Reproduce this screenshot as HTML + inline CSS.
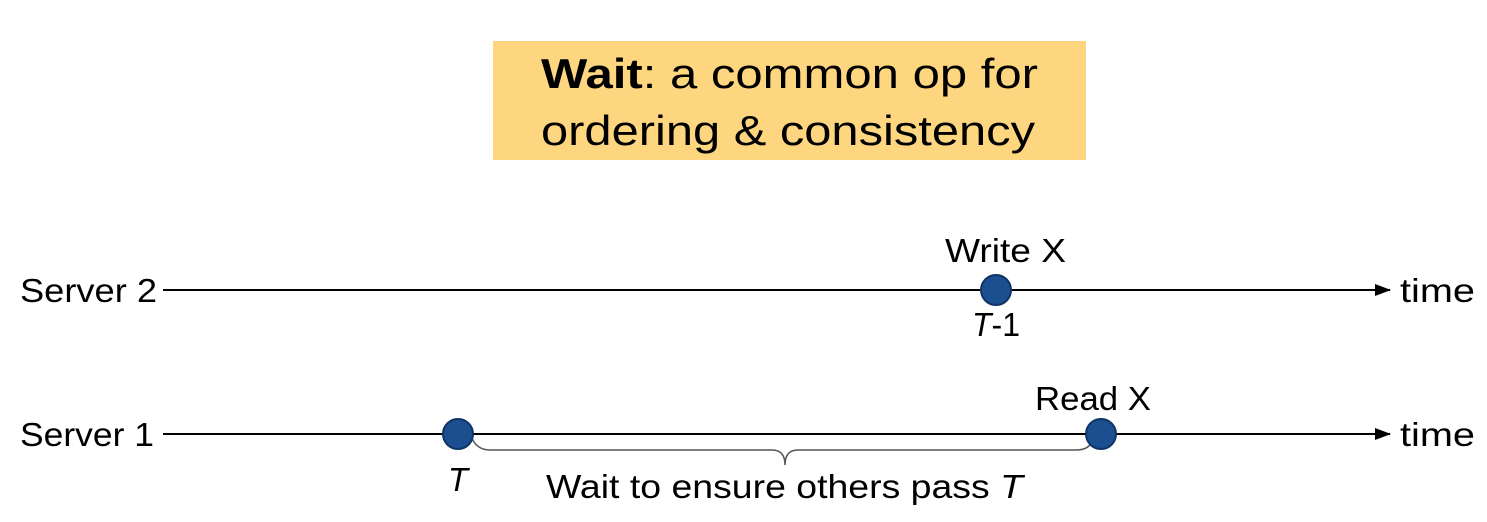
<!DOCTYPE html>
<html><head><meta charset="utf-8"><style>
body{margin:0;background:#fff;width:1487px;height:517px;overflow:hidden}
svg text{font-family:"Liberation Sans",sans-serif;fill:#000}
</style></head><body>
<svg width="1487" height="517" viewBox="0 0 1487 517" xmlns="http://www.w3.org/2000/svg">
<rect x="493" y="41" width="593" height="119" fill="#FDD67F"/>
<text x="541" y="88" font-size="42" textLength="497" lengthAdjust="spacingAndGlyphs"><tspan font-weight="bold">Wait</tspan>: a common op for</text>
<text x="541" y="145" font-size="42" textLength="494" lengthAdjust="spacingAndGlyphs">ordering &amp; consistency</text>
<defs><marker id="a" markerWidth="16" markerHeight="12" refX="15" refY="6" orient="auto" markerUnits="userSpaceOnUse"><path d="M0,0 L16,6 L0,12 Z" fill="#000"/></marker></defs>
<line x1="163" y1="290" x2="1390" y2="290" stroke="#000" stroke-width="2" marker-end="url(#a)"/>
<line x1="163" y1="434" x2="1390" y2="434" stroke="#000" stroke-width="2" marker-end="url(#a)"/>
<text x="20" y="302" font-size="33" textLength="137" lengthAdjust="spacingAndGlyphs">Server 2</text>
<text x="20" y="446" font-size="33" textLength="134" lengthAdjust="spacingAndGlyphs">Server 1</text>
<text x="1400" y="302" font-size="33" textLength="75" lengthAdjust="spacingAndGlyphs">time</text>
<text x="1400" y="446" font-size="33" textLength="75" lengthAdjust="spacingAndGlyphs">time</text>
<text x="945" y="262" font-size="33" textLength="121" lengthAdjust="spacingAndGlyphs">Write X</text>
<text x="972" y="336" font-size="33" textLength="48" lengthAdjust="spacingAndGlyphs"><tspan font-style="italic">T</tspan>-1</text>
<text x="1035" y="410" font-size="33" textLength="116" lengthAdjust="spacingAndGlyphs">Read X</text>
<text x="458" y="491" font-size="33" text-anchor="middle" font-style="italic">T</text>
<text x="546" y="498" font-size="33" textLength="477" lengthAdjust="spacingAndGlyphs">Wait to ensure others pass <tspan font-style="italic">T</tspan></text>
<path d="M471,436 Q476,450 490,450 L772,450 Q785,450 785,465 Q785,450 798,450 L1076,450 Q1088,450 1092,442" fill="none" stroke="#555" stroke-width="1.5"/>
<circle cx="996" cy="290" r="15" fill="#1B4F8F" stroke="#0f3566" stroke-width="2"/>
<circle cx="458" cy="434" r="15" fill="#1B4F8F" stroke="#0f3566" stroke-width="2"/>
<circle cx="1101" cy="434" r="15" fill="#1B4F8F" stroke="#0f3566" stroke-width="2"/>
</svg>
</body></html>
